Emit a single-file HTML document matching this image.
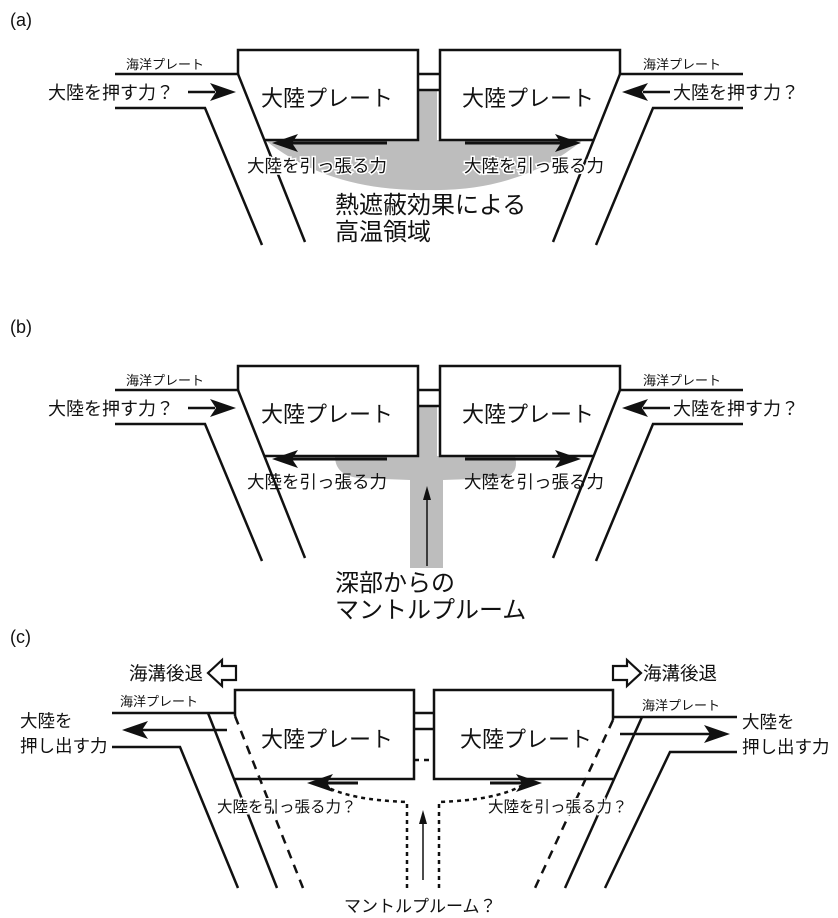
<!DOCTYPE html>
<html><head><meta charset="utf-8"><style>
body{margin:0;background:#fff}
svg{display:block}
text{font-family:"Liberation Sans","Noto Sans CJK JP",sans-serif;fill:#111}
</style></head><body>
<svg width="838" height="918" viewBox="0 0 838 918" xmlns="http://www.w3.org/2000/svg">
<defs>
<g id="frame">
  <path d="M238,75 L238,50 L418,50 L418,140 L264,140" fill="none" stroke="#111" stroke-width="2.5"/>
  <path d="M620,75 L620,50 L440,50 L440,140 L594,140" fill="none" stroke="#111" stroke-width="2.5"/>
  <line x1="418" y1="74" x2="440" y2="74" stroke="#111" stroke-width="2.5"/>
  <line x1="418" y1="90" x2="440" y2="90" stroke="#111" stroke-width="2.5"/>
  <polyline points="115,74 238,74 305,242" fill="none" stroke="#111" stroke-width="2.5"/>
  <polyline points="115,108 205,108 262,245" fill="none" stroke="#111" stroke-width="2.5"/>
  <polyline points="743,74 620,74 553,242" fill="none" stroke="#111" stroke-width="2.5"/>
  <polyline points="743,108 653,108 596,245" fill="none" stroke="#111" stroke-width="2.5"/>
  <line x1="188" y1="92" x2="215" y2="92" stroke="#111" stroke-width="2.5"/>
  <polygon points="236,92 210,83 216,92 210,101" fill="#111"/>
  <line x1="670" y1="92" x2="643" y2="92" stroke="#111" stroke-width="2.5"/>
  <polygon points="622,92 648,83 642,92 648,101" fill="#111"/>
  <text x="48" y="99" font-size="18">大陸を押す力？</text>
  <text x="673" y="99" font-size="18">大陸を押す力？</text>
  <text x="126" y="69" font-size="13">海洋プレート</text>
  <text x="643" y="69" font-size="13">海洋プレート</text>
  <text x="261" y="106" font-size="22">大陸プレート</text>
  <text x="462" y="106" font-size="22">大陸プレート</text>
</g>
<g id="pull">
  <line x1="290" y1="143" x2="387" y2="143" stroke="#111" stroke-width="3"/>
  <polygon points="272,143 298,134 292,143 298,152" fill="#111"/>
  <line x1="465" y1="143" x2="562" y2="143" stroke="#111" stroke-width="3"/>
  <polygon points="581,143 555,134 561,143 555,152" fill="#111"/>
</g>
</defs>

<text x="10" y="26" font-size="18">(a)</text>
<text x="10" y="333" font-size="18">(b)</text>
<text x="10" y="643" font-size="18">(c)</text>

<!-- Panel a -->
<path d="M418,90 L437,90 L437,140 L583,140 Q520,192 429,190 Q330,192 265,140 L418,140 Z" fill="#bdbdbd"/>
<use href="#frame"/>
<use href="#pull"/>
<text x="247" y="172" font-size="17.5" stroke="#fff" stroke-width="3" paint-order="stroke">大陸を引っ張る力</text>
<text x="464" y="172" font-size="17.5" stroke="#fff" stroke-width="3" paint-order="stroke">大陸を引っ張る力</text>
<text x="335" y="213" font-size="24">熱遮蔽効果による</text>
<text x="335" y="240" font-size="24">高温領域</text>

<!-- Panel b -->
<g transform="translate(0,316)">
<path d="M418,91 L437,91 L437,140 L515,140 Q520,160 500,162 L443,164 L443,252 L410,252 L410,164 L360,162 Q335,160 335,140 L418,140 Z" fill="#bdbdbd"/>
<use href="#frame"/>
<use href="#pull"/>
<line x1="427" y1="250" x2="427" y2="180" stroke="#111" stroke-width="1.5"/>
<polygon points="427,170 423,184 431,184" fill="#111"/>
<text x="247" y="172" font-size="17.5">大陸を引っ張る力</text>
<text x="464" y="172" font-size="17.5">大陸を引っ張る力</text>
<text x="335" y="275" font-size="24">深部からの</text>
<text x="335" y="302" font-size="24">マントルプルーム</text>
</g>

<!-- Panel c -->
<g fill="none" stroke="#111" stroke-width="2.5">
  <path d="M235,716 L235,690 L414,690 L414,779 L235,779"/>
  <path d="M613,720 L613,690 L434,690 L434,779 L613,779"/>
  <line x1="414" y1="713" x2="434" y2="713"/>
  <line x1="414" y1="729" x2="434" y2="729"/>
  <line x1="414" y1="760" x2="434" y2="760" stroke-dasharray="5,5"/>
  <polyline points="112,713 235,713"/>
  <line x1="208" y1="713" x2="277" y2="888"/>
  <polyline points="112,747 180,747 238,888"/>
  <line x1="235" y1="716" x2="303" y2="888" stroke-dasharray="9,7"/>
  <polyline points="737,717 613,717"/>
  <line x1="642" y1="717" x2="565" y2="888"/>
  <polyline points="737,752 670,752 605,888"/>
  <line x1="613" y1="720" x2="535" y2="888" stroke-dasharray="9,7"/>
  <path d="M407,888 L407,802 Q350,800 325,786" stroke-dasharray="4,4"/>
  <path d="M439,888 L439,802 Q496,800 521,786" stroke-dasharray="4,4"/>
  <line x1="227" y1="730" x2="140" y2="730"/>
  <line x1="620" y1="734" x2="710" y2="734"/>
  <line x1="325" y1="783" x2="358" y2="783" stroke-width="3"/>
  <line x1="490" y1="783" x2="525" y2="783" stroke-width="3"/>
  <line x1="423" y1="880" x2="423" y2="822" stroke-width="1.5"/>
  <path d="M236,666 L222,666 L222,660 L208,673 L222,686 L222,680 L236,680 Z" stroke-width="2.2"/>
  <path d="M613,666 L627,666 L627,660 L641,673 L627,686 L627,680 L613,680 Z" stroke-width="2.2"/>
</g>
<polygon points="122,730 148,721 142,730 148,739" fill="#111"/>
<polygon points="730,734 704,725 710,734 704,743" fill="#111"/>
<polygon points="307,783 333,774 327,783 333,792" fill="#111"/>
<polygon points="542,783 516,774 522,783 516,792" fill="#111"/>
<polygon points="423,810 419,824 427,824" fill="#111"/>
<text x="129" y="680" font-size="18.5">海溝後退</text>
<text x="643" y="680" font-size="18.5">海溝後退</text>
<text x="120" y="706" font-size="13">海洋プレート</text>
<text x="642" y="710" font-size="13">海洋プレート</text>
<text x="20" y="727" font-size="17.5">大陸を</text>
<text x="20" y="752" font-size="17.5">押し出す力</text>
<text x="742" y="728" font-size="17.5">大陸を</text>
<text x="742" y="753" font-size="17.5">押し出す力</text>
<text x="261" y="747" font-size="22">大陸プレート</text>
<text x="460" y="747" font-size="22">大陸プレート</text>
<text x="217" y="812" font-size="15.5" stroke="#fff" stroke-width="3" paint-order="stroke">大陸を引っ張る力？</text>
<text x="488" y="812" font-size="15.5" stroke="#fff" stroke-width="3" paint-order="stroke">大陸を引っ張る力？</text>
<text x="344" y="912" font-size="17">マントルプルーム？</text>
</svg>
</body></html>
